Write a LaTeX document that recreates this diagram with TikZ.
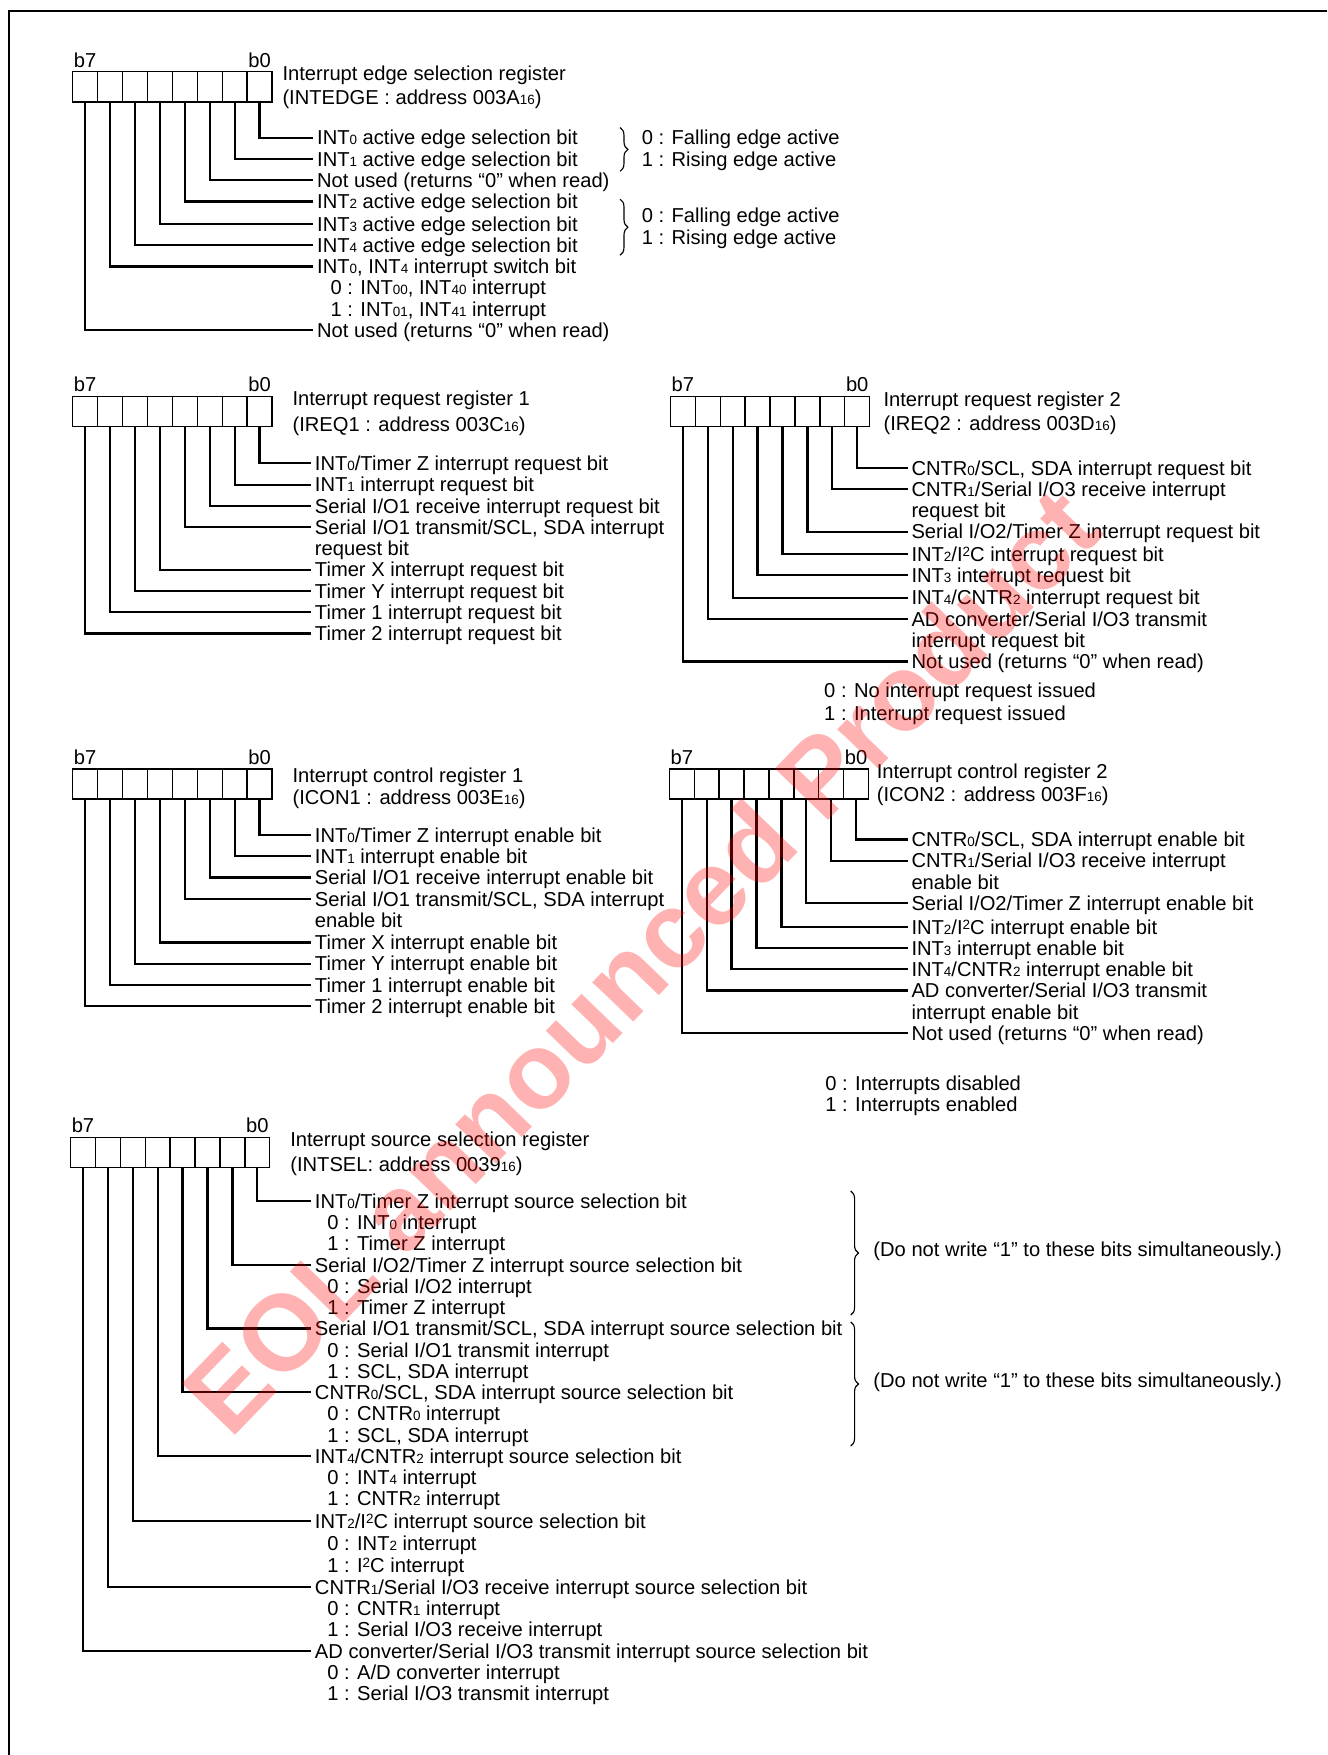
\documentclass[tikz,border=0pt]{standalone}
\usepackage{fontspec}
\setmainfont{Liberation Sans}
\usetikzlibrary{decorations.pathreplacing}
\newcommand\sbs[1]{{\fontsize{6}{6}\selectfont #1}}
\newcommand\sps[1]{\raisebox{2.2pt}{\fontsize{6}{6}\selectfont #1}}
\tikzset{
  cell/.style={draw, line width=0.6pt, minimum width=11.125pt, minimum height=13.5pt, inner sep=0pt, outer sep=0pt},
  blab/.style={anchor=base, inner sep=0pt, font=\fontsize{9}{9}\selectfont},
  lbl/.style={anchor=base west, inner xsep=1.5pt, inner ysep=0pt, text height=6.8pt, text depth=0.3pt, font=\fontsize{9}{9}\selectfont},
  leader/.style={line width=1pt},
  brc/.style={decorate, decoration={brace, amplitude=3.5pt}, line width=0.5pt},
  frame/.style={line width=1pt}
}
\newcommand\register[3]{%
  \foreach \i in {0,...,7}{
    \node[cell] (#1\i) at ({#2+11.125+(7-\i)*22.25},{#3+13.5}) {};
  }
  \node[blab] (#1b7) at ([yshift=2pt]#17.north) {b7};
  \node[blab] (#1b0) at ([yshift=2pt]#10.north) {b0};
}
\newcommand\entry[5]{%
  \node[lbl] (#1) at ({#3-3},{#4+6.5}) {#5};
  \draw[leader] (#2.south) |- (#1.west);
}
\newcommand\txt[4]{\node[lbl] (#1) at ({#2-3},{#3+6.5}) {#4};}
\begin{document}
\begin{tikzpicture}[x=0.5pt,y=-0.5pt]
\useasboundingbox (0,0) rectangle (1186,1568);
\fill[white] (0,0) rectangle (1186,1568);
% frame
\coordinate (frTR) at (1186,10);
\coordinate (frBL) at (8,1568);
\draw[frame] (frTR) -| (frBL);

% ---------- INTEDGE ----------
\register{A}{65}{64}
\txt{At1}{252}{65}{Interrupt edge selection register}
\txt{At2}{252}{87}{(INTEDGE : address 003A\sbs{16})}
\entry{a0}{A0}{283}{123}{INT\sbs{0} active edge selection bit}
\entry{a1}{A1}{283}{142}{INT\sbs{1} active edge selection bit}
\entry{a2}{A2}{283}{161}{Not used (returns “0” when read)}
\entry{a3}{A3}{283}{180}{INT\sbs{2} active edge selection bit}
\entry{a4}{A4}{283}{200}{INT\sbs{3} active edge selection bit}
\entry{a5}{A5}{283}{219}{INT\sbs{4} active edge selection bit}
\entry{a6}{A6}{283}{238}{INT\sbs{0}, INT\sbs{4} interrupt switch bit}
\txt{a6s0}{295}{257}{0 : INT\sbs{00}, INT\sbs{40} interrupt}
\txt{a6s1}{295}{276}{1 : INT\sbs{01}, INT\sbs{41} interrupt}
\entry{a7}{A7}{283}{295}{Not used (returns “0” when read)}
\coordinate (ab1t) at (554,114);
\coordinate (ab1b) at (554,153);
\draw[brc] (ab1t) -- (ab1b);
\txt{ab1a}{573}{123}{0 : Falling edge active}
\txt{ab1c}{573}{142}{1 : Rising edge active}
\coordinate (ab2t) at (554,178);
\coordinate (ab2b) at (554,228);
\draw[brc] (ab2t) -- (ab2b);
\txt{ab2a}{573}{192}{0 : Falling edge active}
\txt{ab2c}{573}{212}{1 : Rising edge active}

% ---------- IREQ1 ----------
\register{B}{65}{354}
\txt{Bt1}{261}{356}{Interrupt request register 1}
\txt{Bt2}{261}{379}{(IREQ1 : address 003C\sbs{16})}
\entry{b0}{B0}{281}{414}{INT\sbs{0}/Timer Z interrupt request bit}
\entry{b1}{B1}{281}{433}{INT\sbs{1} interrupt request bit}
\entry{b2}{B2}{281}{452}{Serial I/O1 receive interrupt request bit}
\entry{b3}{B3}{281}{471}{Serial I/O1 transmit/SCL, SDA interrupt}
\txt{b3x}{281}{490}{request bit}
\entry{b4}{B4}{281}{509}{Timer X interrupt request bit}
\entry{b5}{B5}{281}{528}{Timer Y interrupt request bit}
\entry{b6}{B6}{281}{547}{Timer 1 interrupt request bit}
\entry{b7}{B7}{281}{566}{Timer 2 interrupt request bit}

% ---------- IREQ2 ----------
\register{C}{599}{354}
\txt{Ct1}{789}{357}{Interrupt request register 2}
\txt{Ct2}{789}{378}{(IREQ2 : address 003D\sbs{16})}
\entry{c0}{C0}{814}{418}{CNTR\sbs{0}/SCL, SDA interrupt request bit}
\entry{c1}{C1}{814}{437}{CNTR\sbs{1}/Serial I/O3 receive interrupt}
\txt{c1x}{814}{456}{request bit}
\entry{c2}{C2}{814}{475}{Serial I/O2/Timer Z interrupt request bit}
\entry{c3}{C3}{814}{495}{INT\sbs{2}/I\sps{2}C interrupt request bit}
\entry{c4}{C4}{814}{514}{INT\sbs{3} interrupt request bit}
\entry{c5}{C5}{814}{534}{INT\sbs{4}/CNTR\sbs{2} interrupt request bit}
\entry{c6}{C6}{814}{553}{AD converter/Serial I/O3 transmit}
\txt{c6x}{814}{572}{interrupt request bit}
\entry{c7}{C7}{814}{591}{Not used (returns “0” when read)}
\txt{cn0}{736}{617}{0 : No interrupt request issued}
\txt{cn1}{736}{637}{1 : Interrupt request issued}

% ---------- ICON1 ----------
\register{D}{65}{687}
\txt{Dt1}{261}{693}{Interrupt control register 1}
\txt{Dt2}{261}{712}{(ICON1 : address 003E\sbs{16})}
\entry{d0}{D0}{281}{746}{INT\sbs{0}/Timer Z interrupt enable bit}
\entry{d1}{D1}{281}{765}{INT\sbs{1} interrupt enable bit}
\entry{d2}{D2}{281}{784}{Serial I/O1 receive interrupt enable bit}
\entry{d3}{D3}{281}{803}{Serial I/O1 transmit/SCL, SDA interrupt}
\txt{d3x}{281}{822}{enable bit}
\entry{d4}{D4}{281}{842}{Timer X interrupt enable bit}
\entry{d5}{D5}{281}{861}{Timer Y interrupt enable bit}
\entry{d6}{D6}{281}{880}{Timer 1 interrupt enable bit}
\entry{d7}{D7}{281}{899}{Timer 2 interrupt enable bit}

% ---------- ICON2 ----------
\register{E}{598}{687}
\txt{Et1}{783}{689}{Interrupt control register 2}
\txt{Et2}{783}{710}{(ICON2 : address 003F\sbs{16})}
\entry{e0}{E0}{814}{750}{CNTR\sbs{0}/SCL, SDA interrupt enable bit}
\entry{e1}{E1}{814}{769}{CNTR\sbs{1}/Serial I/O3 receive interrupt}
\txt{e1x}{814}{788}{enable bit}
\entry{e2}{E2}{814}{807}{Serial I/O2/Timer Z interrupt enable bit}
\entry{e3}{E3}{814}{828}{INT\sbs{2}/I\sps{2}C interrupt enable bit}
\entry{e4}{E4}{814}{847}{INT\sbs{3} interrupt enable bit}
\entry{e5}{E5}{814}{866}{INT\sbs{4}/CNTR\sbs{2} interrupt enable bit}
\entry{e6}{E6}{814}{885}{AD converter/Serial I/O3 transmit}
\txt{e6x}{814}{904}{interrupt enable bit}
\entry{e7}{E7}{814}{923}{Not used (returns “0” when read)}
\txt{en0}{737}{968}{0 : Interrupts disabled}
\txt{en1}{737}{987}{1 : Interrupts enabled}

% ---------- INTSEL ----------
\register{F}{63}{1016}
\txt{Ft1}{259}{1018}{Interrupt source selection register}
\txt{Ft2}{259}{1040}{(INTSEL: address 0039\sbs{16})}
\entry{f0}{F0}{281}{1073}{INT\sbs{0}/Timer Z interrupt source selection bit}
\txt{f0a}{292}{1092}{0 : INT\sbs{0} interrupt}
\txt{f0b}{292}{1111}{1 : Timer Z interrupt}
\entry{f1}{F1}{281}{1130}{Serial I/O2/Timer Z interrupt source selection bit}
\txt{f1a}{292}{1149}{0 : Serial I/O2 interrupt}
\txt{f1b}{292}{1168}{1 : Timer Z interrupt}
\entry{f2}{F2}{281}{1187}{Serial I/O1 transmit/SCL, SDA interrupt source selection bit}
\txt{f2a}{292}{1206}{0 : Serial I/O1 transmit interrupt}
\txt{f2b}{292}{1225}{1 : SCL, SDA interrupt}
\entry{f3}{F3}{281}{1244}{CNTR\sbs{0}/SCL, SDA interrupt source selection bit}
\txt{f3a}{292}{1263}{0 : CNTR\sbs{0} interrupt}
\txt{f3b}{292}{1282}{1 : SCL, SDA interrupt}
\entry{f4}{F4}{281}{1301}{INT\sbs{4}/CNTR\sbs{2} interrupt source selection bit}
\txt{f4a}{292}{1320}{0 : INT\sbs{4} interrupt}
\txt{f4b}{292}{1339}{1 : CNTR\sbs{2} interrupt}
\entry{f5}{F5}{281}{1359}{INT\sbs{2}/I\sps{2}C interrupt source selection bit}
\txt{f5a}{292}{1379}{0 : INT\sbs{2} interrupt}
\txt{f5b}{292}{1398}{1 : I\sps{2}C interrupt}
\entry{f6}{F6}{281}{1418}{CNTR\sbs{1}/Serial I/O3 receive interrupt source selection bit}
\txt{f6a}{292}{1437}{0 : CNTR\sbs{1} interrupt}
\txt{f6b}{292}{1456}{1 : Serial I/O3 receive interrupt}
\entry{f7}{F7}{281}{1475}{AD converter/Serial I/O3 transmit interrupt source selection bit}
\txt{f7a}{292}{1494}{0 : A/D converter interrupt}
\txt{f7b}{292}{1513}{1 : Serial I/O3 transmit interrupt}
\coordinate (fb1t) at (760,1064);
\coordinate (fb1b) at (760,1175);
\draw[brc] (fb1t) -- (fb1b);
\txt{fb1n}{780}{1116}{(Do not write “1” to these bits simultaneously.)}
\coordinate (fb2t) at (760,1181);
\coordinate (fb2b) at (760,1292);
\draw[brc] (fb2t) -- (fb2b);
\txt{fb2n}{780}{1233}{(Do not write “1” to these bits simultaneously.)}

% ---------- watermark ----------
\node[rotate=46, text=red, opacity=0.3, inner sep=0pt,
      font=\fontsize{48}{48}\selectfont\bfseries] (wm) at (572,858) {EOL announced Product};
\end{tikzpicture}
\end{document}
